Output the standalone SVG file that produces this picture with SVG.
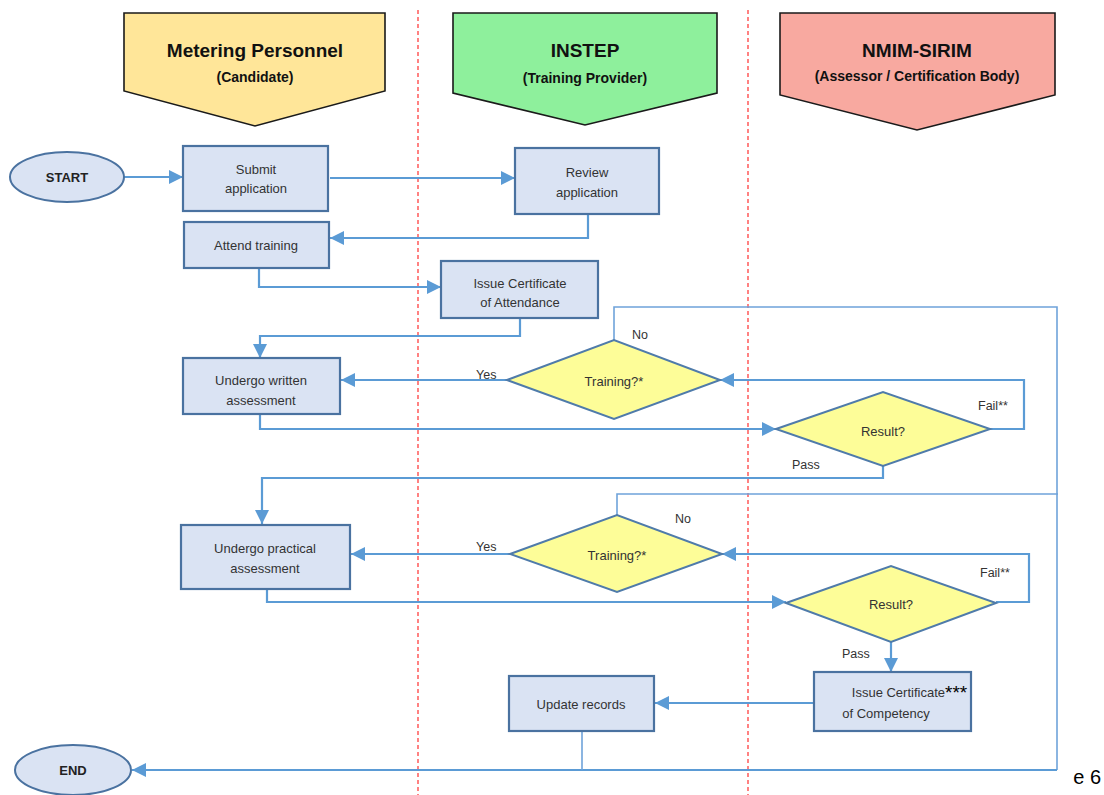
<svg xmlns="http://www.w3.org/2000/svg" width="1104" height="795" viewBox="0 0 1104 795">
<defs>
<style>
.hdr{stroke:#1a1a1a;stroke-width:1.6}
.ht{font-family:"Liberation Sans",Arial,sans-serif;font-weight:bold;fill:#111;text-anchor:middle}
.box{fill:#dae3f3;stroke:#4a72a0;stroke-width:2.2}
.dia{fill:#fdfd98;stroke:#4f7baa;stroke-width:2}
.ell{fill:#dae3f3;stroke:#4a72a0;stroke-width:2}
.t{font-family:"Liberation Sans",Arial,sans-serif;font-size:13px;fill:#333;text-anchor:middle}
.tb{font-family:"Liberation Sans",Arial,sans-serif;font-size:13px;font-weight:bold;fill:#222;text-anchor:middle}
.lbl{font-family:"Liberation Sans",Arial,sans-serif;font-size:12.5px;fill:#333}
.c{fill:none;stroke:#5b9bd5;stroke-width:2.2}
.thin{fill:none;stroke:#6fa3da;stroke-width:1.6}
.div{stroke:#ff4d4d;stroke-width:1.4;stroke-dasharray:4 3}
</style>
<marker id="ah" viewBox="0 0 10 10" refX="10" refY="5" markerWidth="14" markerHeight="14" markerUnits="userSpaceOnUse" orient="auto"><path d="M0,0 L10,5 L0,10 z" fill="#5b9bd5"/></marker>
<clipPath id="pc"><rect x="1073" y="750" width="40" height="45"/></clipPath>
</defs>
<rect width="1104" height="795" fill="#ffffff"/>

<g id="dividers">
<line class="div" x1="418" y1="10" x2="418" y2="795"/>
<line class="div" x1="748" y1="10" x2="748" y2="795"/>
</g>

<g id="lane-metering">
<path class="hdr" d="M124,13 H385 V91 L255,126 L124,91 Z" fill="#ffe699"/>
<text class="ht" x="255" y="57" font-size="19">Metering Personnel</text>
<text class="ht" x="255" y="82" font-size="14" fill="#222">(Candidate)</text>
</g>
<g id="lane-instep">
<path class="hdr" d="M453,13 H717 V93 L585,125 L453,93 Z" fill="#8ef09c"/>
<text class="ht" x="585" y="57" font-size="19">INSTEP</text>
<text class="ht" x="585" y="83" font-size="14" fill="#222">(Training Provider)</text>
</g>
<g id="lane-nmim">
<path class="hdr" d="M780,13 H1055 V95 L917,130 L780,95 Z" fill="#f8a9a0"/>
<text class="ht" x="917" y="57" font-size="19">NMIM-SIRIM</text>
<text class="ht" x="917" y="81" font-size="14" fill="#222">(Assessor / Certification Body)</text>
</g>

<g id="connectors">
<path class="c" d="M124,177 H183" marker-end="url(#ah)"/>
<path class="c" d="M330,178 H515" marker-end="url(#ah)"/>
<path class="c" d="M588,214 V238 H330" marker-end="url(#ah)"/>
<path class="c" d="M259,268 V287 H441" marker-end="url(#ah)"/>
<path class="c" d="M520,318 V336 H260 V358" marker-end="url(#ah)"/>
<path class="c" d="M507,380 H341" marker-end="url(#ah)"/>
<path class="c" d="M260,414 V429 H776" marker-end="url(#ah)"/>
<path class="c" d="M990,429 H1024 V380 H720" marker-end="url(#ah)"/>
<path class="c" d="M883,466 V478 H262 V524" marker-end="url(#ah)"/>
<path class="thin" d="M614,340 V307 H1057 V770"/>
<path class="c" d="M1057,770 H132" marker-end="url(#ah)"/>
<path class="c" d="M510,554 H351" marker-end="url(#ah)"/>
<path class="c" d="M267,589 V602 H786" marker-end="url(#ah)"/>
<path class="c" d="M996,602 H1029 V554 H722" marker-end="url(#ah)"/>
<path class="thin" d="M617,515 V494 H1058"/>
<path class="c" d="M891,642 V672" marker-end="url(#ah)"/>
<path class="c" d="M814,703 H655" marker-end="url(#ah)"/>
<path class="thin" d="M582,731 V770"/>
</g>

<g id="labels">
<text class="lbl" x="476" y="379">Yes</text>
<text class="lbl" x="632" y="339">No</text>
<text class="lbl" x="978" y="410">Fail**</text>
<text class="lbl" x="792" y="469">Pass</text>
<text class="lbl" x="476" y="551">Yes</text>
<text class="lbl" x="675" y="523">No</text>
<text class="lbl" x="980" y="577">Fail**</text>
<text class="lbl" x="842" y="658">Pass</text>
</g>

<g id="start"><ellipse class="ell" cx="67" cy="177" rx="57" ry="25"/><text class="tb" x="67" y="182">START</text></g>
<g id="submit"><rect class="box" x="183" y="146" width="145" height="65"/><text class="t" x="256" y="174">Submit</text><text class="t" x="256" y="193">application</text></g>
<g id="review"><rect class="box" x="515" y="148" width="144" height="66"/><text class="t" x="587" y="177">Review</text><text class="t" x="587" y="197">application</text></g>
<g id="attend"><rect class="box" x="184" y="222" width="145" height="46"/><text class="t" x="256" y="250">Attend training</text></g>
<g id="cert-attendance"><rect class="box" x="441" y="261" width="157" height="57"/><text class="t" x="520" y="288">Issue Certificate</text><text class="t" x="520" y="307">of Attendance</text></g>
<g id="written"><rect class="box" x="183" y="358" width="157" height="56"/><text class="t" x="261" y="385">Undergo written</text><text class="t" x="261" y="405">assessment</text></g>
<g id="training1"><path class="dia" d="M507,380 L614,340 L720,380 L614,419 Z"/><text class="t" x="614" y="386">Training?*</text></g>
<g id="result1"><path class="dia" d="M776,429 L883,392 L990,429 L883,466 Z"/><text class="t" x="883" y="436">Result?</text></g>
<g id="practical"><rect class="box" x="181" y="525" width="169" height="64"/><text class="t" x="265" y="553">Undergo practical</text><text class="t" x="265" y="573">assessment</text></g>
<g id="training2"><path class="dia" d="M510,554 L617,515 L722,554 L617,592 Z"/><text class="t" x="617" y="560">Training?*</text></g>
<g id="result2"><path class="dia" d="M786,603 L891,566 L996,603 L891,642 Z"/><text class="t" x="891" y="609">Result?</text></g>
<g id="cert-competency"><rect class="box" x="814" y="672" width="157" height="59"/><text class="t" x="893" y="697" text-anchor="end" style="text-anchor:end" dx="52">Issue Certificate</text><text x="945" y="699" font-family="Liberation Sans,Arial,sans-serif" font-size="19" fill="#000">***</text><text class="t" x="886" y="718">of Competency</text></g>
<g id="update"><rect class="box" x="509" y="676" width="145" height="55"/><text class="t" x="581" y="709">Update records</text></g>
<g id="end"><ellipse class="ell" cx="73" cy="770" rx="58" ry="25"/><text class="tb" x="73" y="775">END</text></g>

<g id="page"><text x="1101" y="784" text-anchor="end" font-family="Liberation Sans,Arial,sans-serif" font-size="20" fill="#000" clip-path="url(#pc)">Page 6</text></g>
</svg>
